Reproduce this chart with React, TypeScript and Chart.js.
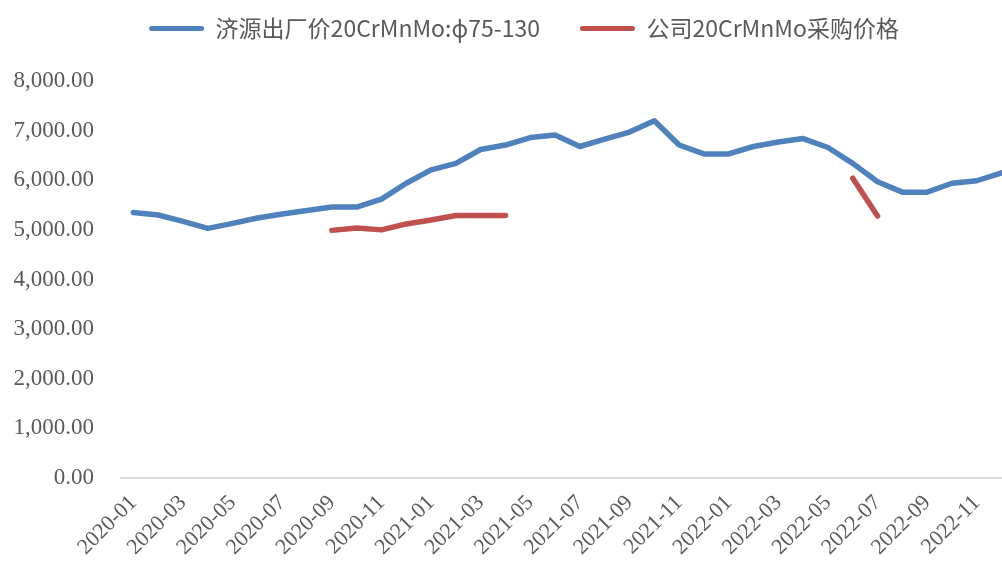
import React, { useEffect, useRef } from "react";
import { Chart, registerables } from "chart.js";

Chart.register(...registerables);

const months: string[] = [
  "2020-01", "2020-02", "2020-03", "2020-04", "2020-05", "2020-06",
  "2020-07", "2020-08", "2020-09", "2020-10", "2020-11", "2020-12",
  "2021-01", "2021-02", "2021-03", "2021-04", "2021-05", "2021-06",
  "2021-07", "2021-08", "2021-09", "2021-10", "2021-11", "2021-12",
  "2022-01", "2022-02", "2022-03", "2022-04", "2022-05", "2022-06",
  "2022-07", "2022-08", "2022-09", "2022-10", "2022-11", "2022-12",
];

const jiyuanPrice: (number | null)[] = [
  5350, 5300, 5170, 5030, 5130, 5240,
  5320, 5390, 5460, 5460, 5620, 5940,
  6210, 6340, 6620, 6710, 6860, 6910,
  6680, 6830, 6970, 7200, 6710, 6530,
  6530, 6680, 6770, 6840, 6660, 6340,
  5970, 5760, 5760, 5940, 5990, 6150,
];

const companyPrice: (number | null)[] = [
  null, null, null, null, null, null,
  null, null, 4990, 5040, 5000, 5120,
  5200, 5290, 5290, 5290, null, null,
  null, null, null, null, null, null,
  null, null, null, null, null, 6040,
  5280, null, null, null, null, null,
];

const seriesNames: string[] = ["济源出厂价20CrMnMo:ϕ75-130", "公司20CrMnMo采购价格"];
const yTicks: number[] = [0, 1000, 2000, 3000, 4000, 5000, 6000, 7000, 8000];

const BLUE = "#4F81BD";
const RED = "#C0504D";
const TEXT = "#595959";

export default function App() {
  const ref = useRef<HTMLCanvasElement | null>(null);

  useEffect(() => {
    if (!ref.current) return;
    const legendPlugin = {
      id: "legendTweak",
      beforeLayout(chart: any) {
        const lg = chart.legend;
        if (lg && !lg._patched) {
          const fit = lg.fit;
          lg.fit = function () {
            fit.call(this);
            this.height = 81;
          };
          lg._patched = true;
        }
      },
      afterLayout(chart: any) {
        const lg = chart.legend;
        if (lg) {
          lg.right = lg.right + 34;
          lg.top = lg.top - 23;
        }
      },
    };
    const chart = new Chart(ref.current, {
      type: "line",
      data: {
        labels: months,
        datasets: [
          {
            label: seriesNames[0],
            data: jiyuanPrice,
            borderColor: BLUE,
            backgroundColor: BLUE,
            borderWidth: 5.5,
            borderCapStyle: "round",
            borderJoinStyle: "round",
            pointRadius: 0,
            tension: 0,
            spanGaps: false,
          },
          {
            label: seriesNames[1],
            data: companyPrice,
            borderColor: RED,
            backgroundColor: RED,
            borderWidth: 5.5,
            borderCapStyle: "round",
            borderJoinStyle: "round",
            pointRadius: 0,
            tension: 0,
            spanGaps: false,
          },
        ],
      },
      options: {
        responsive: false,
        animation: false,
        layout: { padding: { left: 0, right: 0, top: 0, bottom: 0 } },
        plugins: {
          tooltip: { enabled: false },
          legend: {
            display: true,
            position: "top",
            labels: {
              boxWidth: 55,
              boxHeight: 5,
              padding: 40,
              useBorderRadius: true,
              borderRadius: 2.5,
              color: TEXT,
              font: { family: "'Noto Sans CJK SC', 'Noto Sans', sans-serif", size: 23 },
              generateLabels: (c: any) =>
                c.data.datasets.map((ds: any, i: number) => ({
                  text: ds.label,
                  fillStyle: ds.borderColor,
                  strokeStyle: ds.borderColor,
                  lineWidth: 0,
                  borderRadius: 2.5,
                  hidden: false,
                  datasetIndex: i,
                  fontColor: TEXT,
                })),
            },
          },
        },
        scales: {
          x: {
            type: "category",
            offset: true,
            grid: { display: false, drawTicks: false },
            border: { display: true, color: "#D9D9D9", width: 2 },
            ticks: {
              autoSkip: false,
              maxRotation: 45,
              minRotation: 45,
              padding: 12,
              color: TEXT,
              font: { family: "'Liberation Serif', 'Times New Roman', serif", size: 22 },
              callback: (_v: any, i: number) => (i % 2 === 0 ? months[i] : ""),
            },
            afterFit: (s: any) => {
              s.height = 85;
              s.paddingRight = 0;
              s.paddingLeft = 0;
            },
          },
          y: {
            min: 0,
            max: 8000,
            afterBuildTicks: (s: any) => {
              s.ticks = yTicks.map((v) => ({ value: v }));
            },
            grid: { display: false, drawTicks: false },
            border: { display: false },
            ticks: {
              padding: 27,
              color: TEXT,
              font: { family: "'Liberation Serif', 'Times New Roman', serif", size: 23 },
              callback: (v: any) =>
                Number(v).toLocaleString("en-US", {
                  minimumFractionDigits: 2,
                  maximumFractionDigits: 2,
                }),
            },
            afterFit: (s: any) => {
              s.width = 121;
            },
          },
        },
      },
      plugins: [legendPlugin],
    } as any);
    return () => chart.destroy();
  }, []);

  return (
    <div
      style={{
        position: "absolute",
        left: 0,
        top: 0,
        width: 1002,
        height: 563,
        overflow: "hidden",
        background: "#fff",
      }}
    >
      <canvas ref={ref} width={1014} height={563} style={{ display: "block" }} />
    </div>
  );
}
